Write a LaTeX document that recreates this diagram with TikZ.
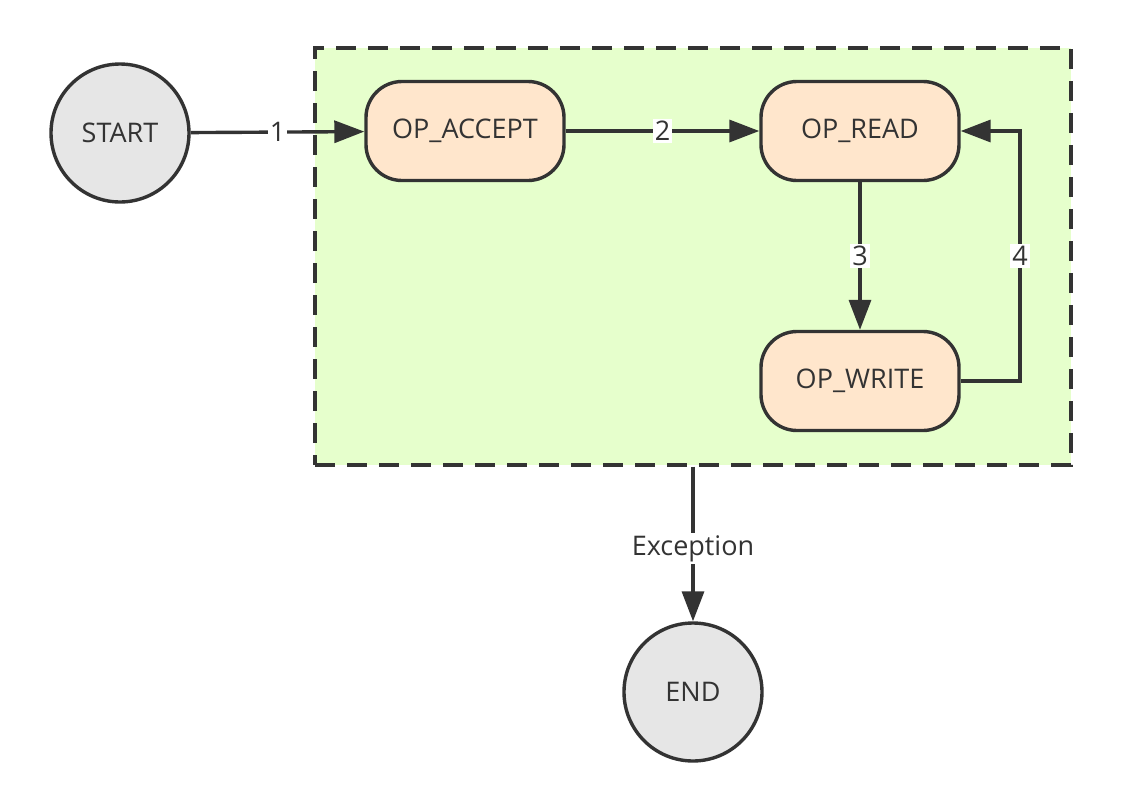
\documentclass[tikz,border=0pt]{standalone}
\usepackage{fontspec}
\setmainfont{Open Sans}
\usepackage{tikz}
\usepackage{xcolor}
\usetikzlibrary{arrows.meta,positioning}
\definecolor{trait}{HTML}{333333}
\definecolor{gris}{HTML}{E6E6E6}
\definecolor{vert}{HTML}{E6FFCC}
\definecolor{peche}{HTML}{FFE6CC}
\tikzset{
Etat/.style={
 circle,
 draw=trait,
 fill=gris,
 line width=1.7pt,
 minimum size=69pt,
 text=trait,
 font=\fontsize{13.5}{16}\selectfont
 },
Op/.style={
 rectangle,
 rounded corners=18pt,
 draw=trait,
 fill=peche,
 line width=1.7pt,
 minimum width=99pt,
 minimum height=49.5pt,
 text=trait,
 font=\fontsize{13.5}{16}\selectfont
 },
Boite/.style={
 rectangle,
 draw=trait,
 fill=vert,
 line width=1.7pt,
 dash pattern=on 10pt off 6pt,
 minimum width=378pt,
 minimum height=208.5pt
 },
Fleche/.style={
 draw=trait,
 line width=1.7pt,
 -{Triangle[length=15pt,width=11pt]}
 },
Etiq/.style={
 fill=white,
 inner sep=1pt,
 text=trait,
 font=\fontsize{13.5}{16}\selectfont
 }
}

\begin{document}
\begin{tikzpicture}[x=0.5pt,y=-0.5pt]
\useasboundingbox (0,0) rectangle (1121,810);
\node[Boite] (zone) at (693,256.5) {};
\node[Etat] (start) at (120,133) {START};
\node[Op] (accept) at (465,131) {OP\_ACCEPT};
\node[Op] (read) at (860,131) {OP\_READ};
\node[Op] (write) at (860,381) {OP\_WRITE};
\node[Etat] (end) at (693,692) {END};
\coordinate (coin) at (1020,381);
\draw[Fleche] (start) -- node[Etiq] {1} (accept);
\draw[Fleche] (accept) -- node[Etiq] {2} (read);
\draw[Fleche] (read) -- node[Etiq] {3} (write);
\draw[Fleche] (write.east) -- (coin) -- node[Etiq] {4} (coin |- read.east) -- (read.east);
\draw[Fleche] (zone.south -| end) -- node[Etiq,pos=0.53] {Exception} (end);
\end{tikzpicture}
\end{document}
